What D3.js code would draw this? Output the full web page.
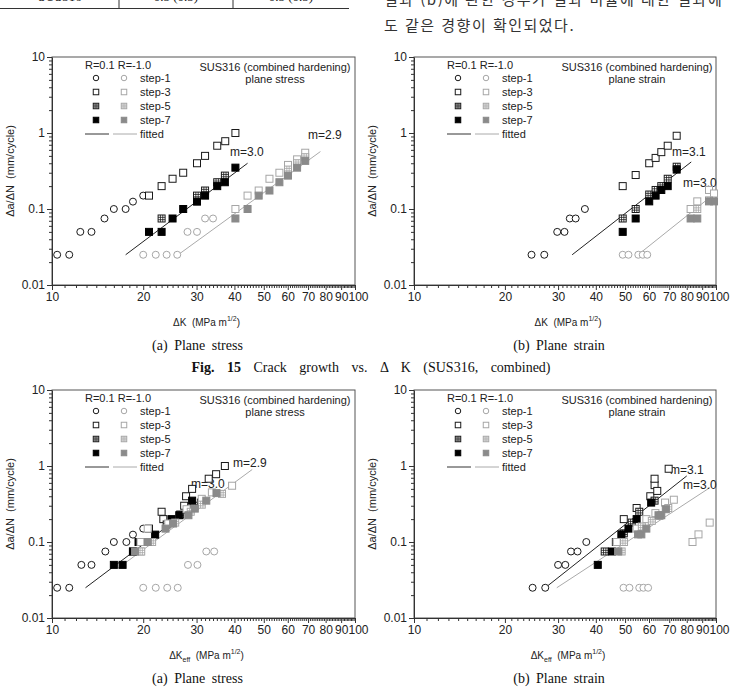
<!DOCTYPE html>
<html lang="ko">
<head>
<meta charset="UTF-8">
<title>Crack growth vs. ΔK (SUS316, combined)</title>
<script src="https://d3js.org/d3.v7.min.js"></script>
<style>
    body { margin: 0; background: #fff; }
    svg { display: block; }
    .tick text { font-family: "Liberation Sans", Arial, sans-serif; font-size: 12px; fill: #222; }
    .tick line { stroke: #333; }
    .sans { font-family: "Liberation Sans", Arial, sans-serif; fill: #222; }
    .serif { font-family: "Liberation Serif", "Times New Roman", serif; fill: #111; }
</style>
</head>
<body>
<svg width="730" height="693"></svg>
<script>
// ---- data: [dK, da/dN] pairs ----
// (a) plane stress, dK
const a_s1_k = [[10.4,.025],[11.4,.025],[12.4,.05],[13.5,.05],[14.9,.075],[16.0,.1],[17.5,.1],[18.5,.125],[20.0,.15]];
const a_s1_g = [[20.0,.025],[22.0,.025],[23.9,.025],[25.9,.025],[28.0,.05],[30.1,.05],[32.0,.075],[34.0,.075]];
const a_s3_k = [[20.9,.15],[23.0,.2],[25.0,.25],[27.1,.3],[30.1,.4],[32.0,.5],[35.1,.68],[37.3,.78],[40.3,1.0]];
const a_s5_k = [[23.0,.075],[30.1,.15],[32.0,.175],[35.1,.225],[37.2,.275]];
const a_s7_k = [[20.9,.05],[23.0,.05],[25.0,.075],[27.1,.1],[30.1,.125],[32.0,.15],[35.1,.2],[37.2,.225],[40.3,.35]];
const a_s3_g = [[40.3,.1],[44.2,.15],[48.1,.175],[52.2,.25],[56.3,.3],[60.1,.38],[64.4,.45],[68.5,.55]];
const a_s5_g = [[60.1,.33],[64.4,.4],[68.5,.48]];
const a_s7_g = [[40.3,.075],[44.2,.1],[48.1,.15],[52.2,.175],[56.3,.225],[60.1,.275],[64.4,.35],[68.5,.43]];
const a_fit_k = [[17.5,.025],[44.2,.4]];
const a_fit_g = [[25.9,.0245],[76.9,.57]];

// (b) plane strain, dK
const b_s1_k = [[24.5,.025],[27.0,.025],[29.8,.05],[31.5,.05],[32.8,.075],[34.3,.075],[36.8,.1]];
const b_s1_g = [[49.1,.025],[51.3,.025],[55.3,.025],[57.2,.025],[59.2,.025]];
const b_s3_k = [[49.1,.2],[54.2,.28],[60.1,.4],[63.1,.47],[65.9,.56],[69.2,.68],[74.1,.92]];
const b_s5_k = [[49.1,.075],[54.2,.1],[60.1,.155],[63.1,.178],[65.9,.2],[69.2,.25],[74.1,.36]];
const b_s7_k = [[49.1,.05],[54.2,.075],[60.1,.126],[63.1,.15],[65.9,.178],[69.2,.2],[74.1,.33]];
const b_s3_g = [[82.4,.1],[86.7,.126],[94.8,.178],[98.5,.16]];
const b_s5_g = [[86.7,.1],[94.8,.13]];
const b_s7_g = [[82.4,.075],[86.7,.075],[94.8,.126],[98.5,.126]];
const b_fit_k = [[33.4,.025],[82.8,.416]];
const b_fit_g = [[55.2,.025],[98.5,.157]];

// (a) plane stress, dKeff
const c_s1_k = [[10.4,.025],[11.4,.025],[12.5,.05],[13.5,.05],[15.0,.075],[16.0,.1],[17.6,.1],[18.5,.125],[20.0,.15]];
const c_s1_g = [[20.0,.025],[22.0,.025],[24.0,.025],[26.0,.025],[28.1,.05],[30.2,.05],[32.3,.075],[34.3,.075]];
const c_s3_k = [[20.9,.15],[23.3,.2],[23.0,.25],[27.3,.3],[27.7,.4],[29.0,.5],[32.9,.68],[34.8,.78],[37.2,1.0]];
const c_s5_k = [[18.5,.075],[20.0,.1],[23.9,.17],[26.5,.23],[29.5,.3],[31.0,.33]];
const c_s7_k = [[16.0,.05],[17.1,.05],[18.5,.075],[19.3,.1],[21.9,.125],[24.8,.2],[26.3,.225],[29.0,.35]];
const c_s3_g = [[19.6,.075],[19.6,.1],[20.7,.15],[24.2,.175],[27.8,.27],[31.2,.37],[33.7,.45],[39.3,.55]];
const c_s5_g = [[19.7,.075],[21.4,.1],[25.5,.18],[28.7,.25],[31.2,.31],[36.4,.43]];
const c_s7_g = [[18.8,.075],[20.7,.1],[23.7,.15],[25.1,.175],[28.2,.225],[29.6,.275],[32.3,.35],[34.9,.44]];
const c_fit_k = [[12.9,.025],[31.1,.35]];
const c_fit_g = [[16.5,.045],[45.8,.9]];

// (b) plane strain, dKeff
const d_s1_k = [[24.7,.025],[27.2,.025],[30.0,.05],[31.7,.05],[33.1,.075],[34.8,.075],[37.2,.1]];
const d_s1_g = [[49.4,.025],[51.7,.025],[55.7,.025],[57.5,.025],[59.6,.025]];
const d_s3_k = [[49.5,.2],[54.6,.28],[60.6,.4],[62.6,.56],[62.6,.68],[63.9,.47],[69.7,.92]];
const d_s5_k = [[42.8,.075],[46.6,.1],[49.5,.13],[52.6,.18],[55.7,.25],[62.6,.35]];
const d_s7_k = [[40.6,.05],[45.2,.075],[48.6,.126],[51.3,.15],[54.6,.2],[61.0,.33]];
const d_s3_g = [[46.9,.1],[54.6,.15],[58.8,.2],[63.0,.24],[67.8,.33],[72.5,.36],[83.6,.1],[87.5,.126],[95.3,.18]];
const d_s5_g = [[48.7,.075],[49.6,.1],[56.8,.16],[61.3,.19],[65.0,.22],[69.5,.28]];
const d_s7_g = [[47.4,.075],[55.2,.126],[56.6,.126],[58.8,.15],[64.5,.225],[65.9,.225],[68.2,.27]];
const d_fit_k = [[27.2,.025],[80.0,.74]];
const d_fit_g = [[29.7,.025],[95.5,.52]];

// ticks / labels
const xMajor = [10, 20, 30, 40, 50, 60, 70, 80, 90, 100];
const xMinor = d3.range(11, 100).filter(v => v % 10 !== 0);
const yMajor = [0.01, 0.1, 1, 10];
const yMajorLabels = ["0.01", "0.1", "1", "10"];
const yMinor = [0.01, 0.1, 1].flatMap(e => d3.range(2, 10).map(k => +(k * e).toPrecision(2)));
const legendSteps = ["step-1", "step-3", "step-5", "step-7"];
const slopeLabels = [["m=3.0", "m=2.9"], ["m=3.1", "m=3.0"], ["m=3.0", "m=2.9"], ["m=3.1", "m=3.0"]];

const BLACK = "#1a1a1a", GREY = "#a6a6a6", GREYFILL = "#8a8a8a";

const svg = d3.select("svg");

// ---- page fragments around the figure (text cut at page top) ----
svg.append("line").attr("x1", 0).attr("x2", 349).attr("y1", 8.5).attr("y2", 8.5)
    .attr("stroke", "#333").attr("stroke-width", 1.2);
[119, 233].forEach(xx => svg.append("line").attr("x1", xx).attr("x2", xx)
    .attr("y1", 0).attr("y2", 8.5).attr("stroke", "#333"));
[["SUS316", 60], ["0.5 (0.5)", 176], ["0.5 (0.5)", 291]].forEach(([t, xx]) =>
    svg.append("text").attr("class", "serif").attr("x", xx).attr("y", 1)
        .attr("text-anchor", "middle").attr("font-size", 13).attr("fill", "#666").text(t));

svg.append("text").attr("x", 384).attr("y", 5).attr("font-family", "Noto Sans CJK KR")
    .attr("font-size", 15).attr("fill", "#333").attr("letter-spacing", 1.5)
    .text("결과 (b)에 관한 경우가 결과 비율에 대한 결과에");
svg.append("text").attr("x", 384).attr("y", 31).attr("font-family", "Noto Sans CJK KR")
    .attr("font-size", 15).attr("fill", "#333").attr("letter-spacing", 1.5)
    .text("도 같은 경향이 확인되었다.");

// ---- panels ----
const panels = [
    { x0: 52, x1: 355, y0: 57, y1: 285, sub: "plane stress", eff: false, cap: "(a)  Plane  stress",
      series: [a_s1_k, a_s3_k, a_s5_k, a_s7_k, a_s1_g, a_s3_g, a_s5_g, a_s7_g], fits: [a_fit_k, a_fit_g],
      mPos: [[230, 156], [308, 139]] },
    { x0: 414, x1: 716, y0: 57, y1: 285, sub: "plane strain", eff: false, cap: "(b)  Plane  strain",
      series: [b_s1_k, b_s3_k, b_s5_k, b_s7_k, b_s1_g, b_s3_g, b_s5_g, b_s7_g], fits: [b_fit_k, b_fit_g],
      mPos: [[672, 156], [683, 187]] },
    { x0: 52, x1: 355, y0: 390, y1: 618, sub: "plane stress", eff: true, cap: "(a)  Plane  stress",
      series: [c_s1_k, c_s3_k, c_s5_k, c_s7_k, c_s1_g, c_s3_g, c_s5_g, c_s7_g], fits: [c_fit_k, c_fit_g],
      mPos: [[191, 488], [233, 467]] },
    { x0: 414, x1: 716, y0: 390, y1: 618, sub: "plane strain", eff: true, cap: "(b)  Plane  strain",
      series: [d_s1_k, d_s3_k, d_s5_k, d_s7_k, d_s1_g, d_s3_g, d_s5_g, d_s7_g], fits: [d_fit_k, d_fit_g],
      mPos: [[670, 474], [683, 489]] }
];

const kinds = ["circle", "square", "hatch", "filled"];

// one marker at (cx,cy)
function marker(g, cx, cy, kind, grey, s) {
    const stroke = grey ? GREY : BLACK;
    if (kind === "circle") {
        g.append("circle").attr("cx", cx).attr("cy", cy).attr("r", s / 2)
            .attr("fill", "#fff").attr("stroke", stroke).attr("stroke-width", 1);
        return;
    }
    const fill = kind === "filled" ? (grey ? GREYFILL : "#000") : "#fff";
    g.append("rect").attr("x", cx - s / 2).attr("y", cy - s / 2).attr("width", s).attr("height", s)
        .attr("fill", fill).attr("stroke", kind === "filled" ? fill : stroke).attr("stroke-width", 1);
    if (kind === "hatch") {
        [-1, 1].forEach(k => {
            const o = k * s / 6;
            g.append("line").attr("x1", cx + o).attr("x2", cx + o).attr("y1", cy - s / 2).attr("y2", cy + s / 2)
                .attr("stroke", stroke).attr("stroke-width", 0.8);
            g.append("line").attr("y1", cy + o).attr("y2", cy + o).attr("x1", cx - s / 2).attr("x2", cx + s / 2)
                .attr("stroke", stroke).attr("stroke-width", 0.8);
        });
    }
}

panels.forEach((p, pi) => {
    const x = d3.scaleLog().domain([10, 100]).range([p.x0, p.x1]);
    const y = d3.scaleLog().domain([0.01, 10]).range([p.y1, p.y0]);
    const g = svg.append("g");

    // frame
    g.append("rect").attr("x", p.x0).attr("y", p.y0).attr("width", p.x1 - p.x0).attr("height", p.y1 - p.y0)
        .attr("fill", "none").attr("stroke", "#555").attr("stroke-width", 1);

    // x axis (100 nudged right, it nearly touches 90 in the print)
    g.append("g").attr("transform", `translate(0,${p.y1})`)
        .call(d3.axisBottom(x).tickValues(xMajor).tickFormat(d3.format("d")).tickSize(5).tickSizeOuter(0).tickPadding(2))
        .call(a => a.select(".domain").attr("stroke", "#333"))
        .call(a => a.selectAll(".tick text").attr("dx", d => d === 100 ? 3 : 0));
    g.append("g").attr("transform", `translate(0,${p.y1})`)
        .call(d3.axisBottom(x).tickValues(xMinor).tickFormat("").tickSize(3))
        .call(a => a.select(".domain").remove());

    // y axis
    g.append("g").attr("transform", `translate(${p.x0},0)`)
        .call(d3.axisLeft(y).tickValues(yMajor).tickFormat((d, i) => yMajorLabels[i]).tickSize(5).tickSizeOuter(0).tickPadding(2))
        .call(a => a.select(".domain").attr("stroke", "#333"));
    g.append("g").attr("transform", `translate(${p.x0},0)`)
        .call(d3.axisLeft(y).tickValues(yMinor).tickFormat("").tickSize(3))
        .call(a => a.select(".domain").remove());

    // axis titles
    const xt = g.append("text").attr("class", "sans").attr("font-size", 10)
        .attr("x", (p.x0 + p.x1) / 2 + 3).attr("y", p.y1 + 41).attr("text-anchor", "middle");
    xt.append("tspan").text("ΔK");
    if (p.eff) xt.append("tspan").attr("font-size", 7).attr("dy", 3).text("eff");
    xt.append("tspan").attr("dy", p.eff ? -3 : 0).text("\u00a0\u00a0(MPa m");
    xt.append("tspan").attr("font-size", 7).attr("dy", -5).text("1/2");
    xt.append("tspan").attr("dy", 5).text(")");

    g.append("text").attr("class", "sans").attr("font-size", 11).attr("text-anchor", "middle")
        .attr("transform", `translate(${p.x0 - 38},${(p.y0 + p.y1) / 2}) rotate(-90)`)
        .text("Δa/ΔN\u00a0\u00a0(mm/cycle)");

    // caption
    g.append("text").attr("class", "serif").attr("font-size", 14).attr("text-anchor", "middle")
        .attr("word-spacing", 3).attr("x", (p.x0 + p.x1) / 2 - 6).attr("y", p.y1 + 65).text(p.cap);

    // fitted lines
    const line = d3.line().x(d => x(d[0])).y(d => y(d[1]));
    g.append("path").datum(p.fits[0]).attr("d", line).attr("stroke", "#222").attr("stroke-width", 1).attr("fill", "none");
    g.append("path").datum(p.fits[1]).attr("d", line).attr("stroke", "#aaa").attr("stroke-width", 1).attr("fill", "none");

    // slope labels
    p.mPos.forEach((pos, i) => g.append("text").attr("class", "sans").attr("font-size", 12)
        .attr("x", pos[0]).attr("y", pos[1]).text(slopeLabels[pi][i]));

    // markers
    p.series.forEach((pts, si) => {
        const grey = si >= 4, kind = kinds[si % 4];
        pts.forEach(d => marker(g, x(d[0]), y(d[1]), kind, grey, 7));
    });

    // legend
    const lx = p.x0, ly = p.y0;
    g.append("text").attr("class", "sans").attr("font-size", 11).attr("x", lx + 33).attr("y", ly + 12).text("R=0.1 R=-1.0");
    kinds.forEach((k, i) => {
        const cy = ly + 21 + i * 14;
        marker(g, lx + 44, cy, k, false, 5.5);
        marker(g, lx + 72, cy, k, true, 5.5);
        g.append("text").attr("class", "sans").attr("font-size", 11).attr("x", lx + 88).attr("y", cy + 4).text(legendSteps[i]);
    });
    const fy = ly + 21 + 4 * 14;
    g.append("line").attr("x1", lx + 33).attr("x2", lx + 57).attr("y1", fy).attr("y2", fy).attr("stroke", "#333");
    g.append("line").attr("x1", lx + 61).attr("x2", lx + 85).attr("y1", fy).attr("y2", fy).attr("stroke", "#aaa");
    g.append("text").attr("class", "sans").attr("font-size", 11).attr("x", lx + 88).attr("y", fy + 4).text("fitted");

    g.append("text").attr("class", "sans").attr("font-size", 11).attr("text-anchor", "middle")
        .attr("x", lx + 223).attr("y", ly + 14).text("SUS316 (combined hardening)");
    g.append("text").attr("class", "sans").attr("font-size", 11).attr("text-anchor", "middle")
        .attr("x", lx + 223).attr("y", ly + 26).text(p.sub);
});

// figure caption between the two rows
const fc = svg.append("text").attr("class", "serif").attr("font-size", 14).attr("text-anchor", "middle")
    .attr("x", 371).attr("y", 372).attr("word-spacing", 9);
fc.append("tspan").attr("font-weight", "bold").text("Fig.  15");
fc.append("tspan").text("  Crack  growth  vs.   Δ K  (SUS316,  combined)");
</script>
</body>
</html>
